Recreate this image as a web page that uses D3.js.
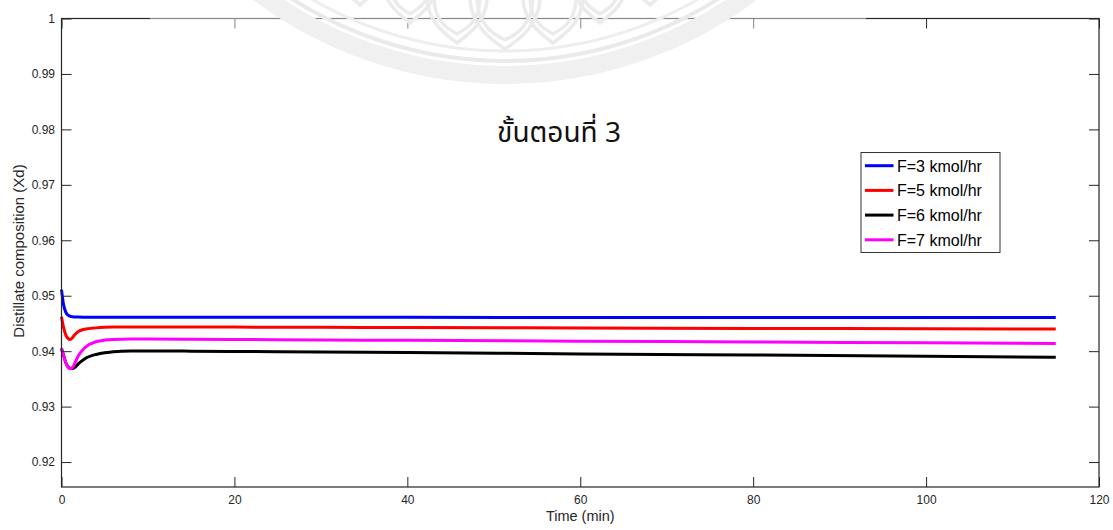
<!DOCTYPE html>
<html>
<head>
<meta charset="utf-8">
<script src="https://cdn.jsdelivr.net/npm/d3@7"></script>
<style>
  html, body { margin: 0; padding: 0; background: #fff; }
  svg { display: block; }
</style>
</head>
<body>
<svg id="chart" width="1113" height="530"></svg>
<script>
// Simulation time (min)
const timeMin = [0, 0.25, 0.5, 0.75, 1, 1.25, 1.5, 2, 2.5, 3, 3.5, 4, 5, 6, 8, 10, 15, 20, 30, 40, 60, 80, 100, 115];

// Distillate composition Xd for each feed rate
const xdF3 = [0.9511, 0.9483, 0.9470, 0.9465, 0.9463, 0.94622, 0.94618, 0.94615, 0.94613, 0.94612, 0.94612, 0.94612, 0.94612, 0.94612, 0.94612, 0.94612, 0.94611, 0.9461, 0.9461, 0.9461, 0.94608, 0.94607, 0.94606, 0.94605];
const xdF5 = [0.9462, 0.9442, 0.9429, 0.9423, 0.9421, 0.9424, 0.9429, 0.9436, 0.9439, 0.94405, 0.94413, 0.9442, 0.9443, 0.94436, 0.94438, 0.94438, 0.94436, 0.94434, 0.9443, 0.94425, 0.94418, 0.9441, 0.94405, 0.9440];
const xdF6 = [0.9405, 0.9392, 0.9379, 0.9372, 0.9369, 0.93685, 0.9370, 0.9378, 0.9384, 0.9389, 0.9392, 0.9394, 0.9397, 0.9399, 0.94002, 0.94003, 0.9400, 0.93995, 0.93985, 0.93975, 0.9395, 0.9393, 0.9391, 0.9389];
const xdF7 = [0.9405, 0.9392, 0.9379, 0.9371, 0.93685, 0.9370, 0.9377, 0.9393, 0.9403, 0.9410, 0.9414, 0.9417, 0.9420, 0.94212, 0.94218, 0.94218, 0.94215, 0.9421, 0.94203, 0.94195, 0.9418, 0.94165, 0.9415, 0.9414];

const seriesNames = ["F=3 kmol/hr", "F=5 kmol/hr", "F=6 kmol/hr", "F=7 kmol/hr"];
const seriesColors = ["#0000ff", "#ff0000", "#000000", "#ff00ff"];
const seriesValues = [xdF3, xdF5, xdF6, xdF7];

const xTicks = [0, 20, 40, 60, 80, 100, 120];
const yTicks = [0.92, 0.93, 0.94, 0.95, 0.96, 0.97, 0.98, 0.99, 1];

const titleText = "ขั้นตอนที่ 3";
const xLabel = "Time (min)";
const yLabel = "Distillate composition (Xd)";

const svg = d3.select("#chart");
const axisColor = "#262626";
const plotLeft = 61.5, plotRight = 1099, plotTop = 18.5, plotBottom = 487;

const x = d3.scaleLinear().domain([0, 120]).range([plotLeft, plotRight]);
const y = d3.scaleLinear().domain([0.9155, 1]).range([plotBottom, plotTop]);

// plot lines
const line = d3.line()
  .x((d, i) => x(timeMin[i]))
  .y(d => y(d))
  .curve(d3.curveMonotoneX);

const plot = svg.append("g");
seriesValues.forEach((vals, k) => {
  plot.append("path")
    .datum(vals)
    .attr("d", line)
    .attr("fill", "none")
    .attr("stroke", seriesColors[k])
    .attr("stroke-width", 3)
    .attr("stroke-linejoin", "round");
});

// axes with inward ticks (box style)
const tickFont = "'Liberation Sans', Arial, sans-serif";
const tickLen = 10;

const bottomAxis = d3.axisBottom(x).tickValues(xTicks).tickSize(-tickLen).tickPadding(8.5).tickFormat(d3.format("d"));
const topAxis = d3.axisTop(x).tickValues(xTicks).tickSize(-tickLen).tickFormat("");
const leftAxis = d3.axisLeft(y).tickValues(yTicks).tickSize(-tickLen).tickPadding(6.5).tickFormat(d => d === 1 ? "1" : d3.format(".2f")(d));
const rightAxis = d3.axisRight(y).tickValues(yTicks).tickSize(-tickLen).tickFormat("");

function styleAxis(g) {
  g.select("path.domain").remove();
  g.selectAll(".tick line").attr("stroke", axisColor).attr("stroke-width", 1);
  g.selectAll(".tick text").attr("fill", axisColor).style("font-family", tickFont).style("font-size", "12px");
}

svg.append("g").attr("transform", `translate(0,${plotBottom})`).call(bottomAxis).call(styleAxis);
svg.append("g").attr("transform", `translate(0,${plotTop})`).call(topAxis).call(styleAxis);
svg.append("g").attr("transform", `translate(${plotLeft},0)`).call(leftAxis).call(styleAxis);
svg.append("g").attr("transform", `translate(${plotRight},0)`).call(rightAxis).call(styleAxis);

// axes frame
svg.append("rect")
  .attr("x", plotLeft).attr("y", plotTop)
  .attr("width", plotRight - plotLeft).attr("height", plotBottom - plotTop)
  .attr("fill", "none").attr("stroke", axisColor).attr("stroke-width", 1.2);

// axis labels
svg.append("text")
  .attr("x", (plotLeft + plotRight) / 2).attr("y", 520.5)
  .attr("text-anchor", "middle")
  .attr("fill", axisColor)
  .style("font-family", tickFont).style("font-size", "14.5px")
  .text(xLabel);

svg.append("text")
  .attr("transform", `translate(23.5,251) rotate(-90)`)
  .attr("text-anchor", "middle")
  .attr("fill", axisColor)
  .style("font-family", tickFont).style("font-size", "15px")
  .text(yLabel);

// title inside the axes
svg.append("text")
  .attr("x", 559).attr("y", 142)
  .attr("text-anchor", "middle")
  .attr("fill", "#111")
  .style("font-family", "'Noto Sans Thai', 'Leelawadee UI', Tahoma, 'Noto Sans', sans-serif")
  .style("font-size", "28px")
  .text(titleText);

// legend
const lg = svg.append("g");
lg.append("rect")
  .attr("x", 861).attr("y", 152.5)
  .attr("width", 139).attr("height", 100)
  .attr("fill", "#fff").attr("stroke", "#333").attr("stroke-width", 1);
seriesNames.forEach((name, k) => {
  const yy = 165.7 + k * 24.7;
  lg.append("line")
    .attr("x1", 865).attr("x2", 893.5)
    .attr("y1", yy).attr("y2", yy)
    .attr("stroke", seriesColors[k]).attr("stroke-width", 3);
  lg.append("text")
    .attr("x", 897).attr("y", yy + 6)
    .attr("fill", "#000")
    .style("font-family", tickFont).style("font-size", "16px")
    .text(name);
});

// faint emblem printed over the upper part of the page
const wm = svg.append("g");
wm.append("rect")
  .attr("x", 150).attr("y", 0).attr("width", 716).attr("height", 100)
  .attr("fill", "#fff").attr("opacity", 0.45);
const cx = 505, cy = -335;
wm.append("circle").attr("cx", cx).attr("cy", cy).attr("r", 410)
  .attr("fill", "none").attr("stroke", "#f0f0f0").attr("stroke-width", 18);
wm.append("circle").attr("cx", cx).attr("cy", cy).attr("r", 396)
  .attr("fill", "none").attr("stroke", "#eaeaea").attr("stroke-width", 4);
wm.append("circle").attr("cx", cx).attr("cy", cy).attr("r", 386)
  .attr("fill", "none").attr("stroke", "#eeeeee").attr("stroke-width", 3);
// lotus petals (double outline)
const petals = [[505, 49, 70, 52], [457, 43, 60, 46], [553, 43, 60, 46], [410, 23, 52, 40], [600, 23, 52, 40], [360, 5, 46, 34], [650, 5, 46, 34]];
petals.forEach(([px, py, w, h]) => {
  [0, 7].forEach(inset => {
    const p = d3.path();
    const hw = w / 2 - inset;
    p.moveTo(px - hw, py - h);
    p.bezierCurveTo(px - hw, py - h * 0.45, px - hw * 0.35, py - inset * 0.8 - 8, px, py - inset * 1.3);
    p.bezierCurveTo(px + hw * 0.35, py - inset * 0.8 - 8, px + hw, py - h * 0.45, px + hw, py - h);
    wm.append("path").attr("d", p.toString())
      .attr("fill", "none").attr("stroke", "#ebebeb").attr("stroke-width", 3.5);
  });
});
</script>
</body>
</html>
